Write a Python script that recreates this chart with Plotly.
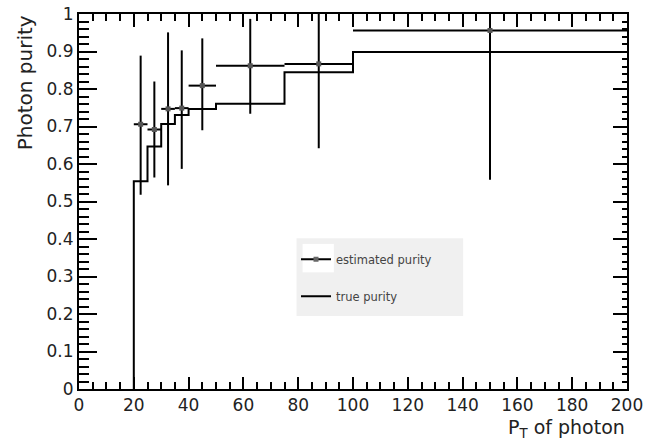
import plotly.graph_objects as go

# ---- data ----
bin_lo = [20, 25, 30, 35, 40, 50, 75, 100]
bin_hi = [25, 30, 35, 40, 50, 75, 100, 200]
est_purity = [0.706, 0.692, 0.747, 0.749, 0.809, 0.862, 0.867, 0.956]
est_upper = [0.889, 0.820, 0.951, 0.903, 0.935, 0.987, 1.0, 1.0]
est_lower = [0.518, 0.564, 0.543, 0.587, 0.690, 0.734, 0.642, 0.558]
true_purity = [0.554, 0.647, 0.707, 0.731, 0.747, 0.761, 0.845, 0.899]

x_ticks = [0, 20, 40, 60, 80, 100, 120, 140, 160, 180, 200]
y_ticks = [0, 0.1, 0.2, 0.3, 0.4, 0.5, 0.6, 0.7, 0.8, 0.9, 1]

# derived quantities
centers = [(a + b) / 2 for a, b in zip(bin_lo, bin_hi)]
half_w = [(b - a) / 2 for a, b in zip(bin_lo, bin_hi)]
err_plus = [u - v for u, v in zip(est_upper, est_purity)]
err_minus = [v - l for v, l in zip(est_purity, est_lower)]

# true purity as step line starting from 0 at the first edge
step_x = [bin_lo[0], bin_lo[0]] + bin_lo[1:] + [bin_hi[-1]]
step_y = [0, true_purity[0]] + true_purity[1:] + [true_purity[-1]]

FONT = "DejaVu Sans"
TXT = "#222222"

fig = go.Figure()

# legend proxy for estimated purity
fig.add_trace(go.Scatter(
    x=[None], y=[None], mode="lines+markers", name="estimated purity",
    line=dict(color="black", width=2),
    marker=dict(symbol="square", size=5, color="#666666"),
    legendgroup="a",
))

fig.add_trace(go.Scatter(
    x=step_x, y=step_y, mode="lines", name="true purity",
    line=dict(color="black", width=2, shape="hv"),
    legendgroup="b",
))

fig.add_trace(go.Scatter(
    x=centers, y=est_purity, mode="markers", showlegend=False,
    marker=dict(symbol="square", size=5, color="#555555", line=dict(width=0)),
    error_x=dict(type="data", array=half_w, symmetric=True, width=0,
                 thickness=2, color="black"),
    error_y=dict(type="data", array=err_plus, arrayminus=err_minus,
                 symmetric=False, width=0, thickness=2, color="black"),
))

# helper traces so mirrored axes render
fig.add_trace(go.Scatter(x=[None], y=[None], xaxis="x2", yaxis="y",
                         showlegend=False, hoverinfo="skip"))
fig.add_trace(go.Scatter(x=[None], y=[None], xaxis="x", yaxis="y2",
                         showlegend=False, hoverinfo="skip"))

axis_common = dict(showgrid=False, zeroline=False, showline=True,
                   linecolor="black", linewidth=2, ticks="inside",
                   tickwidth=2, tickcolor="black", automargin=False)

fig.update_layout(
    template="none",
    width=648, height=441,
    margin=dict(l=79, r=21, t=14, b=52),
    paper_bgcolor="white", plot_bgcolor="white",
    font=dict(family=FONT, color=TXT),
    xaxis=dict(range=[0, 200], tickvals=x_ticks, ticklen=12,
               tickfont=dict(size=17, family=FONT, color=TXT),
               minor=dict(dtick=5, ticks="inside", ticklen=7, tickwidth=2,
                          tickcolor="black"),
               **axis_common),
    xaxis2=dict(range=[0, 200], overlaying="x", side="top", anchor="y",
                tickvals=x_ticks, ticklen=13, showticklabels=False,
                minor=dict(dtick=5, ticks="inside", ticklen=7, tickwidth=2,
                           tickcolor="black"),
                **axis_common),
    yaxis=dict(range=[0, 1], tickvals=y_ticks, ticklen=18,
               tickfont=dict(size=17, family=FONT, color=TXT),
               minor=dict(dtick=0.02, ticks="inside", ticklen=10, tickwidth=2,
                          tickcolor="black"),
               **axis_common),
    yaxis2=dict(range=[0, 1], overlaying="y", side="right", anchor="x",
                tickvals=y_ticks, ticklen=14, showticklabels=False,
                minor=dict(dtick=0.02, ticks="inside", ticklen=5, tickwidth=2,
                           tickcolor="black"),
                **axis_common),
    showlegend=True,
    legend=dict(x=0.396, y=0.385, xanchor="left", yanchor="top",
                bgcolor="rgba(0,0,0,0)", borderwidth=0,
                font=dict(size=11.5, family=FONT, color="#444444"),
                tracegroupgap=18, traceorder="grouped"),
    shapes=[
        dict(type="rect", xref="paper", yref="paper",
             x0=0.397, x1=0.701, y0=0.195, y1=0.402,
             fillcolor="#f0f0f0", line=dict(width=0), layer="below"),
        dict(type="rect", xref="paper", yref="paper",
             x0=0.408, x1=0.465, y0=0.311, y1=0.387,
             fillcolor="white", line=dict(width=0), layer="below"),
    ],
    annotations=[
        dict(text="Photon purity", xref="paper", yref="paper",
             x=-0.097, y=1.003, xanchor="center", yanchor="top",
             textangle=-90, showarrow=False,
             font=dict(size=20, family=FONT, color=TXT)),
        dict(text="P<sub>T</sub> of photon", xref="paper", yref="paper",
             x=1.0, y=-0.106, xanchor="right", yanchor="middle",
             showarrow=False,
             font=dict(size=19, family=FONT, color=TXT)),
    ],
)

fig.write_html("out.html")
